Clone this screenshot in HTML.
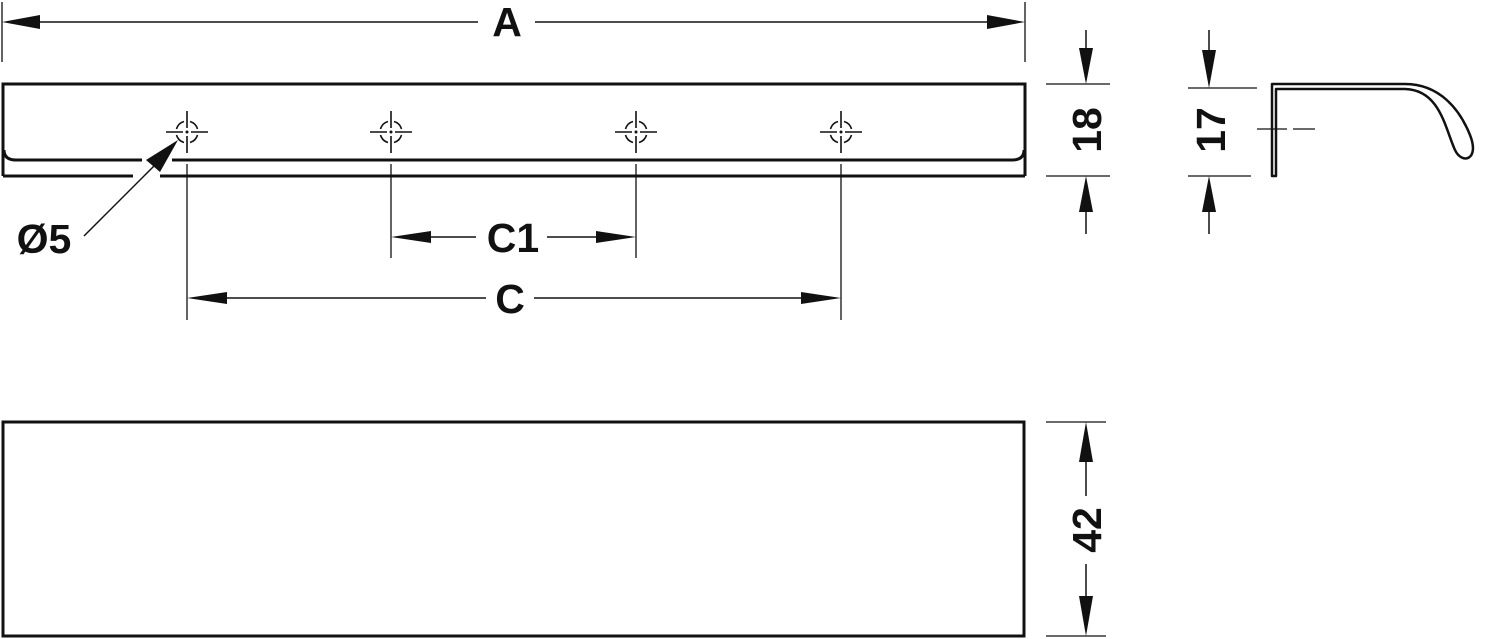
<!DOCTYPE html>
<html><head><style>html,body{margin:0;padding:0;background:#fff}svg{display:block}</style></head>
<body>
<svg width="1488" height="639" viewBox="0 0 1488 639" xmlns="http://www.w3.org/2000/svg" font-family="Liberation Sans, sans-serif" font-weight="bold">
<defs>
<g id="ch" stroke="#111" stroke-width="1.6" fill="none">
<path d="M0,-21 V-4 M0,4 V21 M-21,0 H-4 M4,0 H21"/>
<path d="M-3,-10.5 A11,11 0 0 0 -10.5,-3 M3,-10.5 A11,11 0 0 1 10.5,-3 M10.5,3 A11,11 0 0 1 3,10.5 M-10.5,3 A11,11 0 0 0 -3,10.5"/>
<circle r="1.5" fill="#111" stroke="none"/>
</g>
</defs>
<g stroke="#111" fill="none">
<path d="M3,176 V84 H1025 V176" stroke-width="3"/>
<path d="M3,176 H133 M160,176 H1025" stroke-width="3"/>
<path d="M4,150 Q4,160 16,160 H142 M172,160 H1012 Q1024,160 1024,150" stroke-width="3"/>
<path d="M2,2 V62 M1025,2 V62" stroke-width="1.3"/>
<path d="M40,22 H478 M535,22 H988" stroke-width="1.5"/>
<path d="M187,164 V320 M391,164 V258 M636,164 V258 M841,164 V320" stroke-width="1.3"/>
<path d="M430,237 H476 M547,237 H598" stroke-width="1.5"/>
<path d="M225,298 H486 M534,298 H803" stroke-width="1.5"/>
<path d="M84,236 L160,160" stroke-width="1.5"/>
<path d="M1046,84 H1110 M1046,176 H1110" stroke-width="1.3"/>
<path d="M1086,30 V50 M1086,210 V234" stroke-width="1.5"/>
<path d="M1188,88 H1257 M1188,176 H1251" stroke-width="1.3"/>
<path d="M1209,30 V50 M1209,210 V234" stroke-width="1.5"/>
<path d="M1257,129 H1287 M1293,129 H1315" stroke-width="1.3"/>
<path d="M1272,176 V84 H1405 C1440,84 1460,110 1470,135 C1480,160 1462,165 1455,150 C1445,128 1440,90 1405,89 H1276 V176 Z" stroke-width="2.5" stroke-linejoin="round"/>
<rect x="3" y="422" width="1021" height="214" stroke-width="3"/>
<path d="M1046,422 H1106 M1046,636 H1106" stroke-width="1.3"/>
<path d="M1086,460 V496 M1086,564 V598" stroke-width="1.5"/>
</g>
<g fill="#111">
<polygon points="2,22 40,15 40,29"/><polygon points="1025,22 987,15 987,29"/>
<polygon points="391,237 431,231 431,243"/><polygon points="636,237 596,231 596,243"/>
<polygon points="187,298 227,292 227,304"/><polygon points="841,298 801,292 801,304"/>
<polygon points="178,140 146,160 160,172"/>
<polygon points="1086,84 1079,48 1093,48"/><polygon points="1086,176 1079,212 1093,212"/>
<polygon points="1209,88 1202,50 1216,50"/><polygon points="1209,176 1202,212 1216,212"/>
<polygon points="1086,422 1079,462 1093,462"/><polygon points="1086,636 1079,596 1093,596"/>
</g>
<use href="#ch" x="187" y="132"/><use href="#ch" x="391" y="132"/><use href="#ch" x="636" y="132"/><use href="#ch" x="841" y="132"/>
<g fill="#111" font-size="41">
<text x="507" y="36" text-anchor="middle">A</text>
<text x="513" y="252" text-anchor="middle">C1</text>
<text x="510" y="313" text-anchor="middle">C</text>
<text x="44" y="253" text-anchor="middle">Ø5</text>
<text transform="translate(1101,130) rotate(-90)" text-anchor="middle">18</text>
<text transform="translate(1225,130) rotate(-90)" text-anchor="middle">17</text>
<text transform="translate(1101,530) rotate(-90)" text-anchor="middle">42</text>
</g>
</svg>
</body></html>
